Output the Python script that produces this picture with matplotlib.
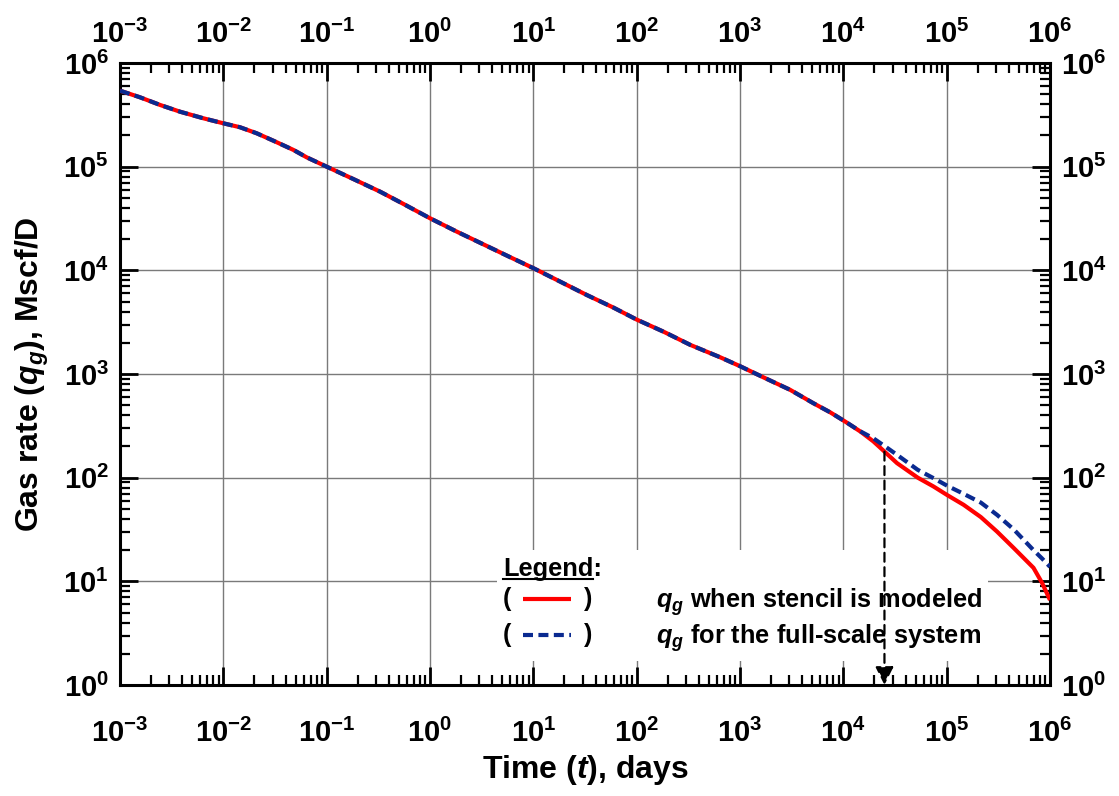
import numpy as np
import matplotlib
matplotlib.use("Agg")
import matplotlib.pyplot as plt
from matplotlib.ticker import LogLocator, NullFormatter, NullLocator, FuncFormatter
from matplotlib.legend_handler import HandlerBase
from matplotlib.lines import Line2D
from matplotlib.text import Text

# ---------------- data ----------------
time_days = [1.0e-3, 1.56e-3, 2.44e-3, 3.81e-3, 6.40e-3, 1.0e-2, 1.45e-2, 2.10e-2,
             3.05e-2, 4.77e-2, 6.41e-2, 0.1, 0.181, 0.329, 0.553, 1.0, 1.82, 3.29,
             5.96, 10.0, 18.2, 32.8, 59.6, 100.0, 182.0, 330.0, 643.0, 1000.0,
             1690.0, 3060.0, 5140.0, 7460.0, 1.04e4, 1.46e4, 1.95e4, 2.54e4,
             3.31e4, 5.25e4, 7.46e4, 1.02e5, 1.46e5, 2.14e5, 3.07e5, 4.47e5,
             6.92e5, 8.38e5, 1.0e6]
q_stencil = [5.41e5, 4.67e5, 3.94e5, 3.39e5, 2.93e5, 2.62e5, 2.40e5, 2.10e5,
             1.78e5, 1.45e5, 1.23e5, 1.0e5, 7.60e4, 5.74e4, 4.37e4, 3.18e4, 2.36e4,
             1.78e4, 1.34e4, 1.05e4, 7.78e3, 5.79e3, 4.37e3, 3.35e3, 2.56e3, 1.91e3,
             1.45e3, 1.19e3, 927.0, 703.0, 522.0, 427.0, 348.0, 279.0, 224.0, 176.0,
             138.0, 100.0, 82.2, 67.6, 54.7, 41.7, 30.2, 20.9, 13.5, 9.66, 6.6]
q_full = [5.41e5, 4.67e5, 3.94e5, 3.39e5, 2.93e5, 2.62e5, 2.40e5, 2.10e5,
          1.78e5, 1.45e5, 1.23e5, 1.0e5, 7.60e4, 5.74e4, 4.37e4, 3.18e4, 2.36e4,
          1.78e4, 1.34e4, 1.05e4, 7.78e3, 5.79e3, 4.37e3, 3.35e3, 2.56e3, 1.91e3,
          1.45e3, 1.19e3, 927.0, 703.0, 522.0, 427.0, 348.0, 280.0, 240.0, 200.0,
          166.0, 119.0, 98.9, 83.2, 69.8, 57.5, 43.8, 31.6, 20.0, 16.6, 13.8]
arrow_time = 2.5e4
arrow_rate = 178.0
x_limits = [1e-3, 1e6]
y_limits = [1e0, 1e6]
series_labels = [r"$\mathit{q_g}$ when stencil is modeled",
                 r"$\mathit{q_g}$ for the full-scale system"]
legend_title = "Legend:"
x_label = r"Time ($\mathit{t}$), days"
y_label = r"Gas rate ($\mathit{q_g}$), Mscf/D"

# ---------------- style ----------------
plt.rcParams["font.family"] = ["Liberation Sans", "DejaVu Sans"]
plt.rcParams["font.weight"] = "bold"
plt.rcParams["mathtext.fontset"] = "custom"
plt.rcParams["mathtext.rm"] = "Liberation Sans:bold"
plt.rcParams["mathtext.bf"] = "Liberation Sans:bold"
plt.rcParams["mathtext.it"] = "Liberation Sans:italic:bold"
plt.rcParams["mathtext.sf"] = "Liberation Sans:bold"
plt.rcParams["mathtext.default"] = "bf"

fig = plt.figure(figsize=(11.19, 7.96), dpi=100)
ax = fig.add_axes([120/1119, 1-685/796, 930/1119, 622/796])

red_line, = ax.plot(time_days, q_stencil, color="#ff0000", lw=3.0, zorder=3,
                    solid_capstyle="butt", solid_joinstyle="round")
blue_line, = ax.plot(time_days, q_full, color="#0a2a90", lw=3.0, zorder=4,
                     linestyle=(0, (2.4, 1.3)))

ax.set_xscale("log")
ax.set_yscale("log")
ax.set_xlim(x_limits)
ax.set_ylim(y_limits)

exp_fmt = FuncFormatter(lambda v, p: r"$10^{%d}$" % int(round(np.log10(v))))
for axis in (ax.xaxis, ax.yaxis):
    axis.set_major_locator(LogLocator(base=10, numticks=30))
    axis.set_minor_locator(LogLocator(base=10, subs=np.arange(2, 10), numticks=300))
    axis.set_minor_formatter(NullFormatter())
    axis.set_major_formatter(exp_fmt)

ax.tick_params(which="both", direction="in", top=True, right=True,
               labeltop=False, labelright=True, colors="black")
ax.tick_params(which="major", length=13, width=2.0, labelsize=21)
ax.tick_params(axis="x", which="major", pad=24)
ax.tick_params(axis="y", which="major", pad=8)
ax.tick_params(which="minor", length=7, width=1.6)
for s in ax.spines.values():
    s.set_linewidth(2.2)

# top labels on a secondary axis (own padding)
sec = ax.secondary_xaxis("top")
sec.xaxis.set_major_locator(LogLocator(base=10, numticks=30))
sec.xaxis.set_minor_locator(NullLocator())
sec.xaxis.set_major_formatter(exp_fmt)
sec.tick_params(which="major", direction="in", length=0, labelsize=21, pad=10)
sec.spines["top"].set_visible(False)

ax.grid(True, which="major", color="#7a7a7a", lw=1.0)

ax.set_xlabel(x_label, fontsize=23, fontweight="bold", labelpad=4)
ax.set_ylabel(y_label, fontsize=23, fontweight="bold", labelpad=9)

# arrow
ax.annotate("", xy=(arrow_time, y_limits[0]), xytext=(arrow_time, arrow_rate),
            arrowprops=dict(arrowstyle="-|>,head_length=1.1,head_width=0.55",
                            linestyle=(0, (4, 2.5)), lw=1.6, color="black",
                            shrinkA=0, shrinkB=0),
            zorder=7)


class ParenHandler(HandlerBase):
    def create_artists(self, legend, orig_handle, xdescent, ydescent, width,
                       height, fontsize, trans):
        y = height / 2 - ydescent
        x0 = -xdescent
        seg = Line2D([x0 + 0.22 * width, x0 + 0.76 * width], [y, y])
        seg.update_from(orig_handle)
        seg.set_transform(trans)
        lp = Text(x0, y, "(", ha="left", va="center", fontsize=fontsize,
                  fontweight="bold", color="black")
        lp.set_transform(trans)
        rp = Text(x0 + width, y, ")", ha="right", va="center", fontsize=fontsize,
                  fontweight="bold", color="black")
        rp.set_transform(trans)
        return [seg, lp, rp]


leg = ax.legend(handles=[red_line, blue_line], labels=series_labels,
                handler_map={Line2D: ParenHandler()},
                loc="lower left", bbox_to_anchor=(0.405, 0.039),
                frameon=True, fancybox=False, edgecolor="none", facecolor="white",
                framealpha=1.0, title=legend_title, alignment="left",
                prop=dict(weight="bold", size=18.3),
                title_fontproperties=dict(weight="bold", size=18.3),
                handlelength=3.5, handletextpad=2.5, borderpad=0.25,
                labelspacing=0.2, borderaxespad=0)
leg.set_zorder(6)

# underline "Legend"
fig.canvas.draw()
renderer = fig.canvas.get_renderer()
title = leg.get_title()
bb = title.get_window_extent(renderer)
w, h, d = renderer.get_text_width_height_descent("Legend", title.get_fontproperties(), ismath=False)
inv = fig.transFigure.inverted()
(fx0, fy0) = inv.transform((bb.x0, bb.y0 + d - 3))
(fx1, _) = inv.transform((bb.x0 + w, bb.y0))
fig.add_artist(Line2D([fx0, fx1], [fy0, fy0], transform=fig.transFigure,
                      color="black", lw=1.5, zorder=8))

fig.savefig("out.png", dpi=100)
